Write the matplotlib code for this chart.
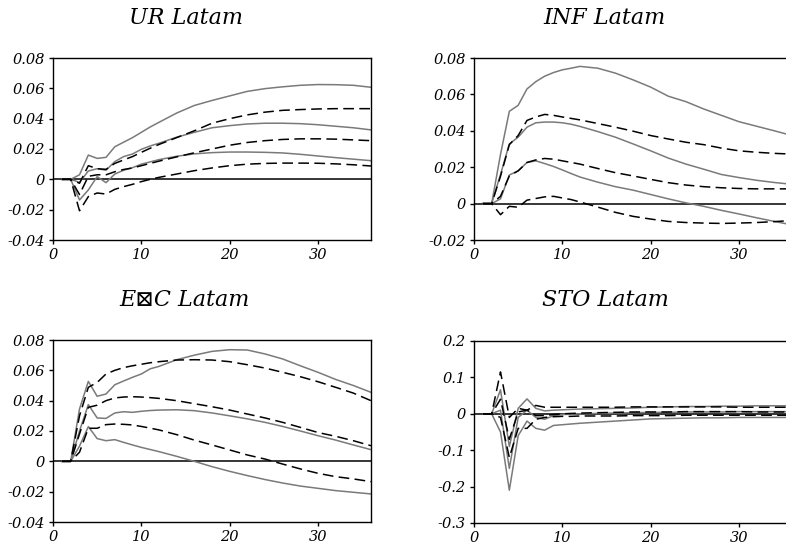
import matplotlib
matplotlib.use("Agg")
import matplotlib.pyplot as plt

X = [1, 2, 3, 4, 5, 6, 7, 8, 9, 10, 11, 12, 14, 16, 18, 20, 22, 24, 26, 28, 30, 32, 34, 36]

# UR Latam
ur_gray_hi = [0, 0, 0.003, 0.016, 0.0138, 0.0145, 0.0215, 0.0245, 0.0275, 0.031, 0.0345, 0.0376, 0.0437, 0.0487, 0.052, 0.055, 0.058, 0.0598, 0.061, 0.062, 0.0625, 0.0624, 0.062, 0.0607]
ur_gray_mid = [0, 0, -0.002, 0.0055, 0.007, 0.006, 0.0117, 0.015, 0.0167, 0.0198, 0.022, 0.0238, 0.0278, 0.031, 0.034, 0.0354, 0.0365, 0.037, 0.037, 0.0367, 0.036, 0.035, 0.034, 0.0326]
ur_gray_lo = [0, 0, -0.0136, -0.007, 0.0018, -0.0022, 0.0035, 0.006, 0.0077, 0.010, 0.0115, 0.013, 0.0152, 0.0168, 0.0176, 0.018, 0.018, 0.0178, 0.0174, 0.0165, 0.0154, 0.0143, 0.0133, 0.0123]
ur_dash_hi = [0, 0, -0.0026, 0.009, 0.007, 0.0066, 0.0105, 0.0128, 0.015, 0.0178, 0.0205, 0.023, 0.0275, 0.032, 0.037, 0.040, 0.0425, 0.0443, 0.0455, 0.046, 0.0464, 0.0466, 0.0466, 0.0466]
ur_dash_mid = [0, 0, -0.010, 0.002, 0.003, 0.003, 0.005, 0.0065, 0.0075, 0.009, 0.0105, 0.012, 0.0148, 0.0175, 0.020, 0.0225, 0.0243, 0.0255, 0.0263, 0.0267, 0.0267, 0.0265, 0.026, 0.0255]
ur_dash_lo = [0, 0, -0.0207, -0.0114, -0.009, -0.0097, -0.0066, -0.0048, -0.0033, -0.0015, 0.0, 0.0013, 0.0035, 0.0057, 0.0075, 0.009, 0.010, 0.0105, 0.0107, 0.0107, 0.0106, 0.0102, 0.0096, 0.0088]

# INF Latam
inf_gray_hi = [0, 0, 0.027, 0.0507, 0.054, 0.063, 0.067, 0.070, 0.072, 0.0735, 0.0744, 0.0754, 0.0744, 0.0717, 0.068, 0.064, 0.059, 0.056, 0.052, 0.0485, 0.045, 0.0425, 0.040, 0.0374]
inf_gray_mid = [0, 0, 0.016, 0.0328, 0.0365, 0.042, 0.0444, 0.0448, 0.0448, 0.0444, 0.0436, 0.0424, 0.0396, 0.0365, 0.0328, 0.029, 0.025, 0.0217, 0.0189, 0.016, 0.0143, 0.0128, 0.0116, 0.0106]
inf_gray_lo = [0, 0, 0.0026, 0.0157, 0.018, 0.0226, 0.0235, 0.022, 0.0204, 0.0185, 0.0165, 0.0146, 0.0118, 0.0093, 0.0074, 0.005, 0.0026, 0.0004, -0.0015, -0.0037, -0.0057, -0.0078, -0.0098, -0.0117]
inf_dash_hi = [0, 0, 0.015, 0.0324, 0.0374, 0.0457, 0.0476, 0.049, 0.0485, 0.0476, 0.0468, 0.046, 0.044, 0.042, 0.0398, 0.0374, 0.0355, 0.0337, 0.0324, 0.0305, 0.029, 0.0282, 0.0276, 0.0272]
inf_dash_mid = [0, 0, 0.004, 0.0152, 0.018, 0.0226, 0.024, 0.0248, 0.0244, 0.0235, 0.0226, 0.0217, 0.0193, 0.017, 0.0152, 0.0133, 0.0115, 0.0102, 0.0093, 0.0087, 0.0083, 0.0081, 0.0081, 0.0081]
inf_dash_lo = [0, 0, -0.0061, -0.0015, -0.002, 0.0019, 0.0028, 0.0037, 0.004, 0.0031, 0.0022, 0.0009, -0.0019, -0.0048, -0.007, -0.0085, -0.0098, -0.0104, -0.0107, -0.0109, -0.0107, -0.0104, -0.0099, -0.0093]

# E?C Latam
exc_gray_hi = [0, 0, 0.0345, 0.0527, 0.0429, 0.0444, 0.0505, 0.053, 0.0554, 0.0576, 0.061, 0.0626, 0.067, 0.070, 0.0725, 0.0736, 0.0734, 0.0708, 0.0675, 0.063, 0.0587, 0.054, 0.050, 0.0455]
exc_gray_mid = [0, 0, 0.020, 0.0374, 0.0286, 0.0283, 0.0319, 0.0327, 0.0323, 0.033, 0.0335, 0.0338, 0.034, 0.0334, 0.0319, 0.030, 0.028, 0.0257, 0.023, 0.020, 0.0169, 0.014, 0.0108, 0.0077]
exc_gray_lo = [0, 0, 0.010, 0.0229, 0.015, 0.0136, 0.0143, 0.0125, 0.0108, 0.0092, 0.0078, 0.0064, 0.0033, 0.0, -0.0035, -0.0066, -0.0094, -0.012, -0.0143, -0.0163, -0.0178, -0.0193, -0.0204, -0.0215]
exc_dash_hi = [0, 0, 0.030, 0.0488, 0.052, 0.0576, 0.060, 0.0618, 0.063, 0.064, 0.065, 0.0657, 0.0668, 0.067, 0.0668, 0.0657, 0.0637, 0.0615, 0.0587, 0.0558, 0.0525, 0.0488, 0.045, 0.040]
exc_dash_mid = [0, 0, 0.018, 0.0356, 0.037, 0.040, 0.0418, 0.0424, 0.0426, 0.0424, 0.042, 0.0415, 0.040, 0.038, 0.036, 0.0338, 0.0312, 0.0286, 0.0257, 0.0224, 0.019, 0.0165, 0.0136, 0.0103]
exc_dash_lo = [0, 0, 0.006, 0.0218, 0.0218, 0.0242, 0.0246, 0.0244, 0.024, 0.023, 0.0219, 0.0207, 0.0176, 0.014, 0.0108, 0.0075, 0.0042, 0.0015, -0.0018, -0.005, -0.0079, -0.0101, -0.0116, -0.0134]

# STO Latam
sto_gray_hi = [0, 0, 0.066, -0.09, 0.015, 0.041, 0.015, 0.008, 0.01, 0.011, 0.012, 0.013, 0.014, 0.015, 0.016, 0.018, 0.019, 0.02, 0.02, 0.021, 0.021, 0.022, 0.022, 0.022]
sto_gray_mid = [0, 0, 0.01, -0.15, -0.01, 0.01, -0.01, -0.015, -0.005, -0.002, -0.001, 0.0, 0.001, 0.002, 0.003, 0.004, 0.004, 0.005, 0.005, 0.005, 0.006, 0.006, 0.006, 0.006]
sto_gray_lo = [0, 0, -0.05, -0.21, -0.06, -0.02, -0.04, -0.045, -0.032, -0.03, -0.028, -0.026, -0.023, -0.02, -0.017, -0.014, -0.013, -0.012, -0.011, -0.011, -0.010, -0.010, -0.010, -0.010]
sto_dash_hi = [0, 0, 0.115, -0.01, 0.015, 0.01, 0.023, 0.018, 0.018, 0.018, 0.018, 0.018, 0.018, 0.018, 0.019, 0.019, 0.019, 0.019, 0.019, 0.019, 0.018, 0.018, 0.018, 0.018]
sto_dash_mid = [0, 0, 0.04, -0.07, 0.005, 0.01, -0.005, -0.005, -0.002, 0.0, 0.001, 0.002, 0.003, 0.004, 0.005, 0.005, 0.005, 0.006, 0.006, 0.006, 0.006, 0.005, 0.005, 0.005]
sto_dash_lo = [0, 0, -0.01, -0.12, -0.04, -0.04, -0.015, -0.01, -0.008, -0.007, -0.007, -0.006, -0.006, -0.006, -0.005, -0.005, -0.005, -0.004, -0.004, -0.004, -0.004, -0.004, -0.004, -0.004]

titles = ["UR Latam", "INF Latam", "E\u22a0C Latam", "STO Latam"]
x_ticks = [0, 10, 20, 30]
y_ticks_a = [-0.04, -0.02, 0, 0.02, 0.04, 0.06, 0.08]
y_labels_a = ["-0.04", "-0.02", "0", "0.02", "0.04", "0.06", "0.08"]
y_ticks_b = [-0.02, 0, 0.02, 0.04, 0.06, 0.08]
y_labels_b = ["-0.02", "0", "0.02", "0.04", "0.06", "0.08"]
y_ticks_c = [-0.3, -0.2, -0.1, 0, 0.1, 0.2]
y_labels_c = ["-0.3", "-0.2", "-0.1", "0", "0.1", "0.2"]

panels = [
    (titles[0], [ur_gray_hi, ur_gray_mid, ur_gray_lo], [ur_dash_hi, ur_dash_mid, ur_dash_lo], y_ticks_a, y_labels_a),
    (titles[1], [inf_gray_hi, inf_gray_mid, inf_gray_lo], [inf_dash_hi, inf_dash_mid, inf_dash_lo], y_ticks_b, y_labels_b),
    (titles[2], [exc_gray_hi, exc_gray_mid, exc_gray_lo], [exc_dash_hi, exc_dash_mid, exc_dash_lo], y_ticks_a, y_labels_a),
    (titles[3], [sto_gray_hi, sto_gray_mid, sto_gray_lo], [sto_dash_hi, sto_dash_mid, sto_dash_lo], y_ticks_c, y_labels_c),
]

W, H = 786, 545
fig = plt.figure(figsize=(W / 100, H / 100), dpi=100)

# axes boxes in pixels: left, top, width, height
boxes = [(53, 58, 318, 182), (474, 58, 318, 182), (53, 340, 318, 182), (474, 341, 318, 182)]
title_pos = [(186, 18), (604, 18), (185, 300), (605, 300)]

serif = ["DejaVu Serif", "DejaVu Sans"]

for (title, grays, dashes, yt, yl), (l, t, w, h), (tx, ty) in zip(panels, boxes, title_pos):
    ax = fig.add_axes([l / W, 1 - (t + h) / H, w / W, h / H])
    ax.axhline(0, color="black", lw=1.1, zorder=1)
    for s in grays:
        ax.plot(X, s, color="#7a7a7a", lw=1.1, zorder=2)
    for s in dashes:
        ax.plot(X, s, color="black", lw=1.1, dashes=(7, 3.5), zorder=3)
    ax.set_xlim(0, 36)
    ax.set_ylim(yt[0], yt[-1])
    ax.set_xticks(x_ticks)
    ax.set_xticklabels([str(v) for v in x_ticks], fontfamily="DejaVu Serif", fontstyle="italic", fontsize=10.5)
    ax.set_yticks(yt)
    ax.set_yticklabels(yl, fontfamily="DejaVu Serif", fontstyle="italic", fontsize=10.5)
    ax.tick_params(direction="out", length=3, width=1, pad=3, color="black")
    for sp in ax.spines.values():
        sp.set_linewidth(1.0)
        sp.set_color("black")
    fig.text(tx / W, 1 - ty / H, title, ha="center", va="center",
             family=serif, style="italic", fontsize=16)

fig.savefig("out.png", dpi=100)
